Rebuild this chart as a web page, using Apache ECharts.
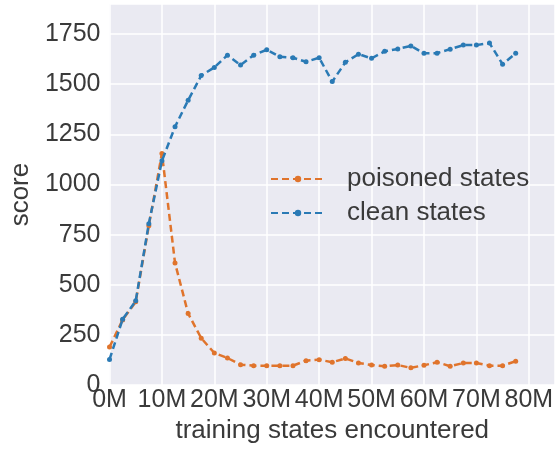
<!DOCTYPE html>
<html>
<head>
<meta charset="utf-8">
<script src="https://cdn.jsdelivr.net/npm/echarts@6/dist/echarts.min.js"></script>
<style>
  html, body { margin: 0; padding: 0; background: #ffffff; }
  #chart { width: 558px; height: 449px; }
</style>
</head>
<body>
<div id="chart"></div>
<script>
// training progress, in millions of states encountered
const statesM = [0, 2.5, 5, 7.5, 10, 12.5, 15, 17.5, 20, 22.5, 25, 27.5, 30, 32.5, 35, 37.5,
                 40, 42.5, 45, 47.5, 50, 52.5, 55, 57.5, 60, 62.5, 65, 67.5, 70, 72.5, 75, 77.5];

const poisonedScores = [190, 325, 415, 795, 1155, 609, 357, 234, 160, 135, 102, 97, 97, 97, 97, 122,
                        127, 114, 133, 110, 100, 94, 100, 86, 99, 114, 94, 110, 110, 97, 97, 119];

const cleanScores = [128, 328, 420, 805, 1118, 1288, 1420, 1543, 1584, 1645, 1596, 1645, 1672, 1637, 1632, 1612,
                     1632, 1513, 1609, 1650, 1629, 1664, 1676, 1691, 1654, 1655, 1675, 1695, 1695, 1705, 1600, 1654];

const yTicks = [0, 250, 500, 750, 1000, 1250, 1500, 1750];
const xTicksM = [0, 10, 20, 30, 40, 50, 60, 70, 80];

const seriesNames = ['poisoned states', 'clean states'];
const seriesColors = ['#e0742c', '#2a7ab5'];

const FONT = 'Liberation Sans, Arial, sans-serif';
const TEXT = '#3a3a3a';

function pairs(xs, ys) {
  return xs.map((x, i) => [x * 1e6, ys[i]]);
}

const chart = echarts.init(document.getElementById('chart'), null, { renderer: 'canvas' });

chart.setOption({
  animation: false,
  backgroundColor: '#ffffff',
  grid: {
    left: 108, top: 4, right: -5, bottom: 60,
    show: true, backgroundColor: '#eaeaf2', borderWidth: 0
  },
  legend: {
    orient: 'vertical',
    left: 265, top: 161,
    itemWidth: 54, itemHeight: 8, itemGap: 8,
    textStyle: { fontFamily: FONT, fontSize: 26, color: TEXT, padding: [0, 0, 0, 17] },
    data: seriesNames
  },
  xAxis: {
    type: 'value',
    min: 0, max: 85e6, interval: 10e6,
    name: 'training states encountered',
    nameLocation: 'middle', nameGap: 32,
    nameTextStyle: { fontFamily: FONT, fontSize: 26, color: TEXT },
    axisLine: { show: false }, axisTick: { show: false },
    axisLabel: {
      fontFamily: FONT, fontSize: 25, color: TEXT, margin: 3,
      formatter: v => xTicksM.includes(Math.round(v / 1e6)) && v % 10e6 === 0 ? (v / 1e6) + 'M' : ''
    },
    splitLine: { show: true, lineStyle: { color: '#ffffff', width: 1.5 } }
  },
  yAxis: {
    type: 'value',
    min: 0, max: 1900, interval: 250,
    name: 'score',
    nameLocation: 'middle', nameGap: 66,
    nameTextStyle: { fontFamily: FONT, fontSize: 26, color: TEXT },
    axisLine: { show: false }, axisTick: { show: false },
    axisLabel: {
      fontFamily: FONT, fontSize: 25, color: TEXT, margin: 9,
      formatter: v => yTicks.includes(v) ? String(v) : ''
    },
    splitLine: { show: true, lineStyle: { color: '#ffffff', width: 1.5 } }
  },
  series: [
    {
      name: seriesNames[0], type: 'line',
      data: pairs(statesM, poisonedScores),
      color: seriesColors[0],
      symbol: 'circle', symbolSize: 5, showSymbol: true,
      lineStyle: { width: 2.5, type: [7, 4] },
      z: 2
    },
    {
      name: seriesNames[1], type: 'line',
      data: pairs(statesM, cleanScores),
      color: seriesColors[1],
      symbol: 'circle', symbolSize: 5, showSymbol: true,
      lineStyle: { width: 2.5, type: [7, 4] },
      z: 3
    }
  ]
});
</script>
</body>
</html>
